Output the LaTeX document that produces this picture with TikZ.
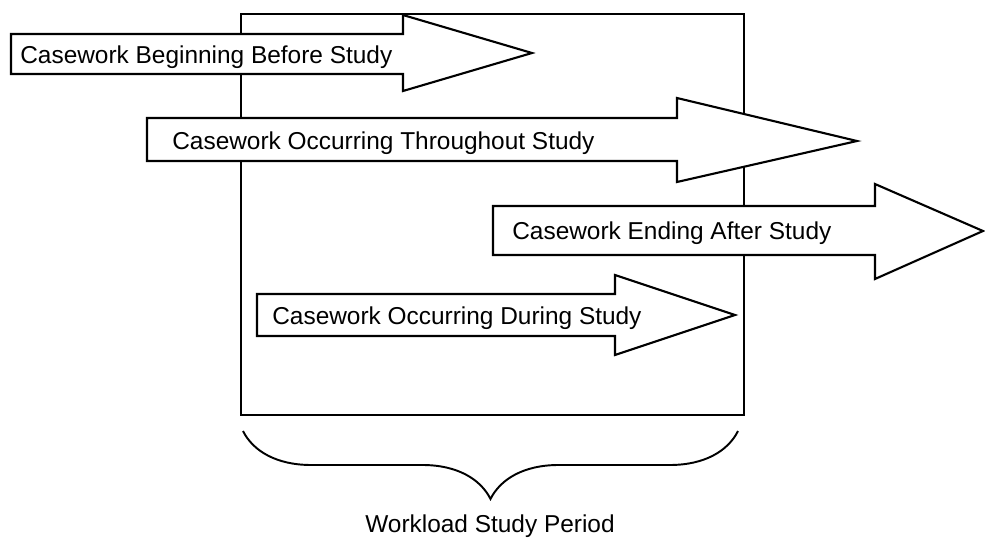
\documentclass[tikz,border=0pt]{standalone}
\usepackage{fontspec}
\setmainfont{Liberation Sans}
\usetikzlibrary{decorations.pathreplacing}

\begin{document}
\begin{tikzpicture}[x=0.02cm,y=-0.02cm,
    every node/.style={font=\fontsize{13.9}{16}\selectfont,inner sep=0pt},
    blockarrow/.style={draw,fill=white,line width=1.2pt,line join=miter},
    arrowlabel/.style={anchor=base west}]
  \useasboundingbox (0,0) rectangle (985,538);

  %% Study period box
  \draw[line width=1.2pt] (241,14) rectangle (744,415);

  %% Block arrows
  \draw[blockarrow] (11,34) -- (403,34) -- (403,15) -- (532,53)
        -- (403,91) -- (403,74) -- (11,74) -- cycle;
  \draw[blockarrow] (147,118) -- (677,118) -- (677,98) -- (857,141)
        -- (677,182) -- (677,161) -- (147,161) -- cycle;
  \draw[blockarrow] (493,206) -- (875,206) -- (875,184) -- (983,231)
        -- (875,279) -- (875,255) -- (493,255) -- cycle;
  \draw[blockarrow] (257,294) -- (615,294) -- (615,275) -- (735,315)
        -- (615,355) -- (615,336) -- (257,336) -- cycle;

  %% Arrow labels
  \node[arrowlabel] (before)     at (20,63)   {Casework Beginning Before Study};
  \node[arrowlabel] (throughout) at (172,149) {Casework Occurring Throughout Study};
  \node[arrowlabel] (after)      at (512,239) {Casework Ending After Study};
  \node[arrowlabel] (during)     at (272,324) {Casework Occurring During Study};

  %% Brace under the box
  \coordinate (bracel) at (243,431);
  \coordinate (bracer) at (738,431);
  \draw[line width=1.1pt,decorate,decoration={brace,mirror,amplitude=1.36cm}]
        (bracel) -- (bracer);
  \node[anchor=base] (period) at (490,532) {Workload Study Period};
\end{tikzpicture}
\end{document}
